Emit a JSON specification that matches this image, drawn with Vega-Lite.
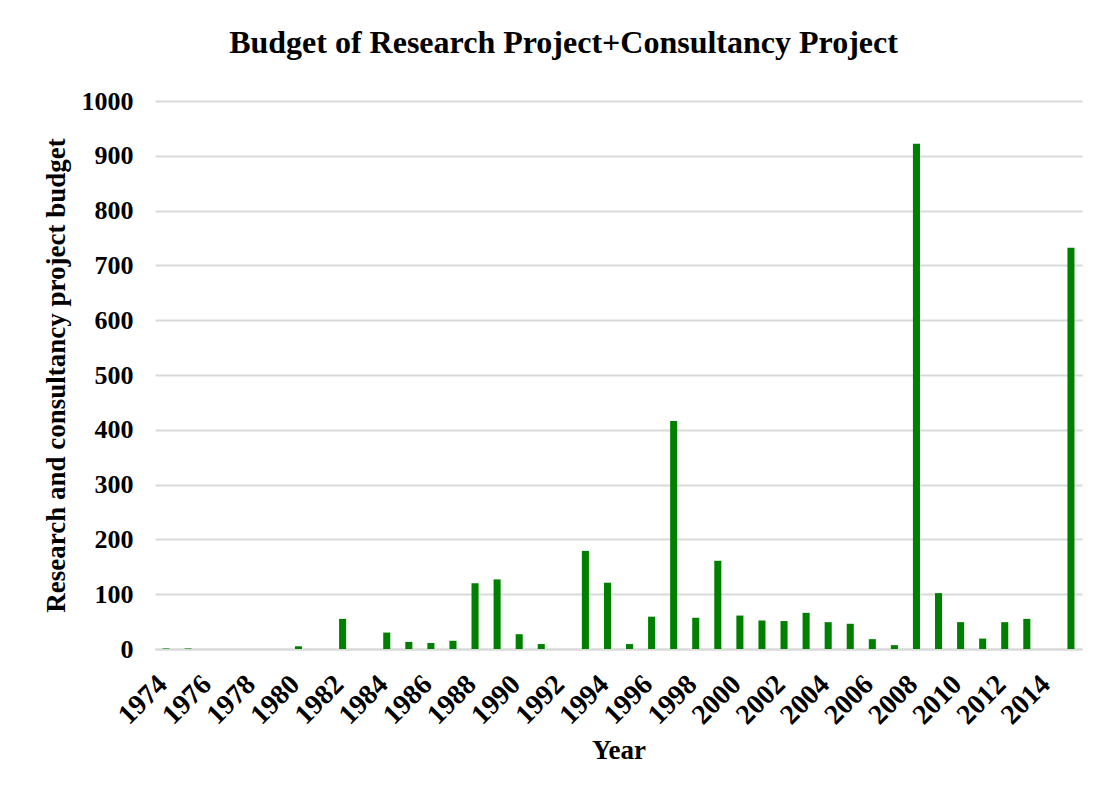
{
  "$schema": "https://vega.github.io/schema/vega-lite/v6.json",
  "width": 927,
  "height": 548,
  "autosize": {"type": "none"},
  "padding": {"left": 155, "top": 101, "right": 23, "bottom": 140},
  "background": "white",
  "title": {
    "text": "Budget of Research Project+Consultancy Project",
    "font": "Liberation Serif",
    "fontSize": 32,
    "fontWeight": "bold",
    "color": "black",
    "anchor": "middle",
    "dx": -55,
    "offset": 28
  },
  "data": {
    "values": [
      {"Year": 1974, "Budget": 1},
      {"Year": 1975, "Budget": 1},
      {"Year": 1976, "Budget": 0},
      {"Year": 1977, "Budget": 0},
      {"Year": 1978, "Budget": 0},
      {"Year": 1979, "Budget": 0},
      {"Year": 1980, "Budget": 5},
      {"Year": 1981, "Budget": 0},
      {"Year": 1982, "Budget": 55},
      {"Year": 1983, "Budget": 0},
      {"Year": 1984, "Budget": 30},
      {"Year": 1985, "Budget": 13},
      {"Year": 1986, "Budget": 11},
      {"Year": 1987, "Budget": 15},
      {"Year": 1988, "Budget": 120},
      {"Year": 1989, "Budget": 127},
      {"Year": 1990, "Budget": 27},
      {"Year": 1991, "Budget": 9},
      {"Year": 1992, "Budget": 0},
      {"Year": 1993, "Budget": 179},
      {"Year": 1994, "Budget": 121},
      {"Year": 1995, "Budget": 9},
      {"Year": 1996, "Budget": 59},
      {"Year": 1997, "Budget": 416},
      {"Year": 1998, "Budget": 57},
      {"Year": 1999, "Budget": 161},
      {"Year": 2000, "Budget": 61},
      {"Year": 2001, "Budget": 52},
      {"Year": 2002, "Budget": 51},
      {"Year": 2003, "Budget": 66},
      {"Year": 2004, "Budget": 49},
      {"Year": 2005, "Budget": 46},
      {"Year": 2006, "Budget": 18},
      {"Year": 2007, "Budget": 7},
      {"Year": 2008, "Budget": 922},
      {"Year": 2009, "Budget": 102},
      {"Year": 2010, "Budget": 49},
      {"Year": 2011, "Budget": 19},
      {"Year": 2012, "Budget": 49},
      {"Year": 2013, "Budget": 55},
      {"Year": 2014, "Budget": 0},
      {"Year": 2015, "Budget": 732}
    ]
  },
  "mark": {"type": "bar", "color": "#008000"},
  "encoding": {
    "x": {
      "field": "Year",
      "type": "ordinal",
      "scale": {"paddingInner": 0.68, "paddingOuter": 0.34},
      "axis": {
        "title": "Year",
        "labelExpr": "datum.value % 2 == 0 ? datum.label : ''",
        "labelAngle": -45,
        "labelAlign": "right",
        "labelBaseline": "middle",
        "labelOffset": -3,
        "labelFont": "Liberation Serif",
        "labelFontSize": 28,
        "labelFontWeight": "bold",
        "labelColor": "black",
        "labelPadding": 31,
        "ticks": false,
        "domainColor": "#d9d9d9",
        "domainWidth": 2,
        "titleFont": "Liberation Serif",
        "titleFontSize": 27,
        "titleFontWeight": "bold",
        "titleColor": "black",
        "titlePadding": 8
      }
    },
    "y": {
      "field": "Budget",
      "type": "quantitative",
      "scale": {"domain": [0, 1000], "nice": false},
      "axis": {
        "title": "Research and consultancy project budget",
        "values": [0, 100, 200, 300, 400, 500, 600, 700, 800, 900, 1000],
        "format": "d",
        "labelFont": "Liberation Serif",
        "labelFontSize": 26,
        "labelFontWeight": "bold",
        "labelColor": "black",
        "labelPadding": 22,
        "ticks": false,
        "domain": false,
        "gridColor": "#d9d9d9",
        "gridWidth": 2,
        "titleFont": "Liberation Serif",
        "titleFontSize": 27,
        "titleFontWeight": "bold",
        "titleColor": "black",
        "titlePadding": 11
      }
    }
  },
  "config": {"view": {"stroke": null}}
}
